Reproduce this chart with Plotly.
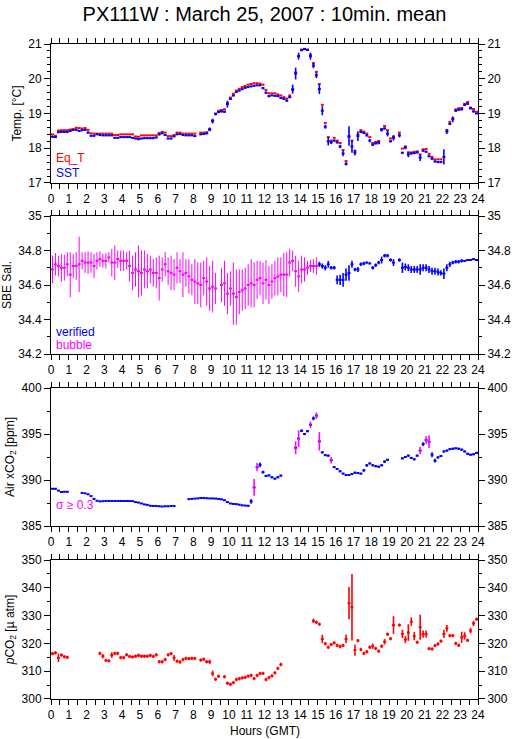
import plotly.graph_objects as go

# 10-minute bins, plotted at the centre of each bin
hours = [(i + 0.5) / 6 for i in range(144)]

eq_t = [18.40, 18.36, 18.51, 18.52, 18.52, 18.52, 18.54, 18.55, 18.59, 18.58, 18.57, 18.58,
        18.53, 18.43, 18.42, 18.42, 18.42, 18.42, 18.42, 18.42, 18.42, 18.38, 18.38, 18.40,
        18.40, 18.40, 18.40, 18.40, 18.34, 18.33, 18.37, 18.37, 18.37, 18.37, 18.37, 18.37,
        18.44, 18.47, 18.45, 18.35, 18.35, 18.38, 18.45, 18.45, 18.42, 18.42, 18.42, 18.42,
        18.42, None, 18.45, 18.45, 18.46, 18.52, 18.80, 19.00, 19.08, 19.10, 19.12, 19.30,
        19.46, 19.57, 19.66, 19.71, 19.76, 19.79, 19.83, 19.85, 19.87, 19.87, 19.86, 19.83,
        19.68, 19.58, 19.58, 19.58, 19.55, 19.52, 19.47, 19.43, 19.52, 19.68, 20.18, 20.65,
        20.84, 20.86, 20.84, 20.68, 20.45, 20.20, 19.85, 19.25, 18.73, 18.32, 18.22, 18.30,
        18.22, 18.15, 17.95, 17.63, 18.32, 18.22, 17.93, 18.40, 18.52, 18.48, 18.42, 18.32,
        18.15, 18.18, 18.21, 18.55, 18.64, 18.52, 18.28, 18.33, None, 18.45, 17.99, 18.05,
        17.88, 17.88, 17.90, 17.91, 17.82, 17.97, 17.98, 17.84, 17.75, 17.68, 17.68, 17.68,
        None, 18.52, 18.76, 18.86, 19.12, 19.15, 19.16, 19.28, 19.33, 19.17, 19.13, 19.05]

sst = [18.33, 18.32, 18.46, 18.47, 18.47, 18.47, 18.50, 18.53, 18.53, 18.50, 18.52, 18.53,
       18.45, 18.36, 18.36, 18.40, 18.38, 18.37, 18.37, 18.37, 18.37, 18.30, 18.30, 18.32,
       18.32, 18.32, 18.32, 18.30, 18.28, 18.26, 18.28, 18.29, 18.29, 18.29, 18.29, 18.31,
       18.40, 18.43, 18.38, 18.28, 18.28, 18.34, 18.40, 18.41, 18.38, 18.37, 18.37, 18.37,
       18.35, None, 18.40, 18.41, 18.43, 18.55, 18.78, 18.98, 19.04, 19.06, 19.05, 19.27,
       19.42, 19.52, 19.62, 19.66, 19.70, 19.74, 19.76, 19.78, 19.80, 19.81, 19.81, 19.73,
       19.60, 19.50, 19.52, 19.51, 19.50, 19.45, 19.42, 19.37, 19.47, 19.70, 20.15, 20.65,
       20.82, 20.85, 20.83, 20.65, 20.38, 20.10, 19.70, 19.08, 18.62, 18.20, 18.17, 18.22,
       18.17, 18.05, 17.85, 17.55, 18.35, 18.05, 17.87, 18.35, 18.47, 18.44, 18.37, 18.22,
       18.10, 18.14, 18.16, 18.53, 18.57, 18.42, 18.20, 18.30, None, 18.37, 17.87, 18.02,
       17.82, 17.85, 17.86, 17.88, 17.73, 17.93, 17.90, 17.77, 17.70, 17.62, 17.60, 17.60,
       17.75, 18.48, 18.70, 18.83, 19.08, 19.11, 19.12, 19.25, 19.28, 19.15, 19.06, 19.00]

sst_sd = [0.03, 0.02, 0.02, 0.02, 0.02, 0.02, 0.02, 0.02, 0.03, 0.02, 0.03, 0.02,
          0.03, 0.02, 0.02, 0.02, 0.02, 0.02, 0.02, 0.02, 0.02, 0.02, 0.02, 0.02,
          0.02, 0.02, 0.02, 0.02, 0.02, 0.02, 0.02, 0.02, 0.02, 0.02, 0.02, 0.02,
          0.03, 0.03, 0.02, 0.02, 0.02, 0.02, 0.02, 0.02, 0.02, 0.02, 0.02, 0.02,
          0.02, None, 0.02, 0.02, 0.03, 0.05, 0.07, 0.03, 0.03, 0.03, 0.03, 0.10,
          0.03, 0.03, 0.03, 0.02, 0.02, 0.02, 0.02, 0.02, 0.02, 0.02, 0.02, 0.03,
          0.03, 0.03, 0.02, 0.02, 0.02, 0.02, 0.03, 0.03, 0.03, 0.13, 0.17, 0.10,
          0.02, 0.02, 0.02, 0.10, 0.08, 0.08, 0.14, 0.13, 0.06, 0.12, 0.05, 0.03,
          0.03, 0.05, 0.08, 0.05, 0.28, 0.18, 0.08, 0.14, 0.03, 0.03, 0.03, 0.05,
          0.03, 0.03, 0.05, 0.05, 0.03, 0.08, 0.03, 0.08, None, 0.06, 0.03, 0.05,
          0.08, 0.03, 0.03, 0.03, 0.10, 0.03, 0.03, 0.03, 0.03, 0.02, 0.02, 0.02,
          0.22, 0.07, 0.03, 0.08, 0.03, 0.03, 0.03, 0.03, 0.03, 0.03, 0.03, 0.02]

# salinity flagged for bubbles, 00:00-15:00 (first 90 bins)
sal_bubble = [34.69, 34.72, 34.71, 34.70, 34.70, 34.72, 34.66, 34.71, 34.71, 34.72, 34.74, 34.73,
              34.73, 34.73, 34.71, 34.74, 34.75, 34.74, 34.74, 34.76, 34.73, 34.73, 34.75, 34.74,
              34.74, 34.74, 34.71, 34.67, 34.69, 34.68, 34.67, 34.69, 34.68, 34.69, 34.67, 34.67,
              34.64, 34.69, 34.72, 34.68, 34.67, 34.66, 34.70, 34.68, 34.66, 34.67, 34.65, 34.63,
              34.62, 34.61, 34.60, 34.64, 34.62, 34.58, 34.59, 34.58, None, 34.60, 34.61, 34.55,
              34.58, 34.55, 34.53, 34.56, 34.57, 34.58, 34.60, 34.61, 34.60, 34.63, 34.64, 34.61,
              34.63, 34.60, 34.62, 34.64, 34.65, 34.66, 34.66, 34.66, 34.73, 34.74, 34.68, 34.65,
              34.69, 34.69, 34.70, 34.71, 34.71, 34.71]
sal_bubble_sd = [0.08, 0.065, 0.06, 0.08, 0.075, 0.07, 0.13, 0.07, 0.08, 0.16, 0.05, 0.06,
                 0.065, 0.06, 0.07, 0.05, 0.045, 0.04, 0.045, 0.03, 0.08, 0.10, 0.05, 0.06,
                 0.06, 0.05, 0.09, 0.10, 0.10, 0.15, 0.13, 0.11, 0.10, 0.08, 0.08, 0.09,
                 0.13, 0.07, 0.07, 0.08, 0.10, 0.09, 0.09, 0.07, 0.13, 0.08, 0.10, 0.09,
                 0.13, 0.12, 0.13, 0.10, 0.14, 0.13, 0.15, 0.09, None, 0.10, 0.13, 0.12,
                 0.10, 0.18, 0.16, 0.13, 0.12, 0.12, 0.12, 0.14, 0.13, 0.11, 0.10, 0.12,
                 0.115, 0.11, 0.10, 0.10, 0.11, 0.10, 0.125, 0.13, 0.08, 0.06, 0.09, 0.09,
                 0.08, 0.07, 0.04, 0.035, 0.04, 0.05]

# verified salinity, 15:00-24:00 (last 54 bins)
sal_verified = [34.72, 34.71, 34.70, 34.72, 34.70, 34.70,
                34.63, 34.63, 34.63, 34.66, 34.67, 34.72, 34.69, 34.69, 34.72, 34.725, 34.73, 34.725,
                34.70, 34.715, 34.73, 34.745, 34.77, 34.77, 34.745, 34.73, None, 34.745, 34.70, 34.705,
                34.70, 34.69, 34.69, 34.69, 34.69, 34.70, 34.70, 34.69, 34.68, 34.68, 34.675, 34.67,
                34.665, 34.70, 34.72, 34.73, 34.735, 34.735, 34.74, 34.74, 34.745, 34.745, 34.75, 34.745]
sal_verified_sd = [0.015, 0.015, 0.015, 0.02, 0.01, 0.01,
                   0.025, 0.03, 0.04, 0.035, 0.045, 0.02, 0.01, 0.015, 0.01, 0.01, 0.005, 0.005,
                   0.01, 0.01, 0.01, 0.02, 0.01, 0.01, 0.01, 0.02, None, 0.01, 0.03, 0.02,
                   0.02, 0.02, 0.02, 0.02, 0.03, 0.02, 0.02, 0.02, 0.02, 0.02, 0.02, 0.015,
                   0.03, 0.02, 0.015, 0.01, 0.01, 0.01, 0.01, 0.005, 0.005, 0.005, 0.005, 0.005]

air_xco2 = [389.05, 389.05, 388.85, 388.70, 388.72, 388.72, None, None, None, None, 388.60, 388.55,
            388.45, 388.25, 387.95, 387.75, 387.68, 387.70, 387.72, 387.72, 387.72, 387.72, 387.72, 387.72,
            387.72, 387.72, 387.72, 387.70, 387.60, 387.55, 387.45, 387.35, 387.30, 387.20, 387.18, 387.18,
            387.15, 387.12, 387.15, 387.15, 387.18, 387.18, None, None, None, None, 387.92, 387.95,
            387.98, 388.00, 388.05, 388.05, 388.02, 388.00, 388.00, 387.98, 387.95, 387.90, 387.80, 387.60,
            387.45, 387.40, 387.38, 387.32, 387.25, 387.22, 387.20, 387.68, 389.20, 391.40, 391.65, 390.85,
            390.45, 390.50, 390.30, 390.15, 390.30, 390.48, None, None, None, None, 393.50, 394.50,
            395.35, 395.00, 395.30, 396.00, 396.70, 397.00, 394.20, 393.00, 392.70, 392.65, 392.15, 391.40,
            391.20, 390.95, 390.70, 390.55, 390.55, 390.65, 390.80, 390.75, 390.70, 391.05, 391.60, 391.80,
            391.60, 391.50, 391.45, 391.60, 392.00, 392.20, None, None, None, None, 392.35, 392.50,
            392.65, 392.40, 392.25, 392.65, 393.20, 393.90, 394.35, 394.15, 392.75, 392.10, 392.45, 392.60,
            393.10, 393.20, 393.35, 393.40, 393.45, 393.40, 393.30, 393.10, 392.85, 392.75, 392.80, 392.95]

air_xco2_sd = [0.03, 0.03, 0.03, 0.03, 0.03, 0.03, None, None, None, None, 0.03, 0.03,
               0.03, 0.05, 0.05, 0.03, 0.03, 0.03, 0.03, 0.03, 0.03, 0.03, 0.03, 0.03,
               0.03, 0.03, 0.03, 0.03, 0.03, 0.03, 0.03, 0.03, 0.03, 0.03, 0.03, 0.03,
               0.03, 0.03, 0.03, 0.03, 0.03, 0.03, None, None, None, None, 0.03, 0.03,
               0.03, 0.03, 0.03, 0.03, 0.03, 0.03, 0.03, 0.03, 0.03, 0.03, 0.03, 0.03,
               0.03, 0.03, 0.03, 0.03, 0.03, 0.03, 0.03, 0.25, 0.90, 0.45, 0.25, 0.15,
               0.10, 0.10, 0.10, 0.10, 0.10, 0.10, None, None, None, None, 0.70, 0.90,
               0.15, 0.12, 0.10, 0.35, 0.20, 0.35, 1.00, 0.10, 0.10, 0.10, 0.36, 0.10,
               0.10, 0.10, 0.10, 0.10, 0.10, 0.10, 0.10, 0.10, 0.10, 0.15, 0.15, 0.10,
               0.10, 0.10, 0.10, 0.10, 0.15, 0.10, None, None, None, None, 0.10, 0.10,
               0.10, 0.10, 0.10, 0.10, 0.40, 0.20, 0.40, 0.70, 0.28, 0.20, 0.12, 0.10,
               0.10, 0.10, 0.10, 0.10, 0.10, 0.10, 0.10, 0.10, 0.10, 0.10, 0.10, 0.10]

pco2 = [316.3, 316.6, 314.8, 315.8, 315.2, 315.0, None, None, None, None, None, None,
        None, None, None, None, 316.4, 315.4, 313.9, 313.7, 315.8, 316.4, 316.4, 314.9,
        314.9, 315.9, 315.3, 315.1, 315.4, 315.7, 315.4, 315.4, 315.4, 315.7, 315.3, 315.9,
        313.4, 313.4, 314.2, 315.9, 316.3, 314.8, 313.6, 313.3, 314.2, 314.6, 314.5, 314.6,
        314.6, None, 314.0, 314.3, 313.4, 313.4, 309.2, 307.1, 308.2, None, 308.0, 305.7,
        305.3, 305.9, 307.0, 307.3, 307.6, 307.8, 308.2, 308.5, 307.35, 308.5, 309.2, 309.2,
        307.0, 307.7, 308.3, 309.4, 311.0, 312.4, None, None, None, None, None, None,
        None, None, None, None, 328.1, 327.6, 326.9, 321.6, 319.9, 318.6, 319.6, 320.2,
        319.3, 318.9, 319.3, 321.6, 334.5, 333.0, 317.6, 321.0, 317.8, 316.4, 317.0, 318.6,
        319.0, 318.2, 317.2, 319.0, 320.6, 323.3, 321.7, 326.6, None, 326.6, 323.4, 321.4,
        323.9, 327.8, 322.6, 320.4, 325.8, 323.3, 323.3, 318.1, 318.0, 319.2, 319.8, 320.8,
        323.4, 325.4, 322.8, 322.8, 320.0, 319.3, 322.2, 322.7, 321.1, 324.6, 327.2, 328.7]

pco2_sd = [0.6, 0.6, 1.5, 0.6, 0.6, 0.6, None, None, None, None, None, None,
           None, None, None, None, 0.6, 0.8, 0.6, 0.6, 1.0, 0.6, 0.6, 0.6,
           0.6, 0.6, 0.6, 0.6, 0.6, 0.6, 0.6, 0.6, 0.6, 0.6, 0.6, 0.6,
           0.6, 0.6, 0.6, 0.6, 0.6, 1.0, 0.6, 0.6, 0.6, 0.6, 0.6, 0.6,
           0.6, None, 0.6, 0.6, 0.6, 0.8, 1.0, 0.6, 0.6, None, 0.6, 0.6,
           0.6, 0.6, 0.6, 0.6, 0.6, 0.6, 0.6, 0.6, 0.6, 0.6, 0.6, 0.6,
           0.6, 0.6, 0.6, 0.6, 0.6, 0.6, None, None, None, None, None, None,
           None, None, None, None, 0.8, 0.6, 0.6, 1.5, 0.6, 0.6, 0.6, 0.6,
           0.6, 0.6, 0.6, 1.5, 5.8, 12.0, 2.0, 0.6, 0.6, 0.6, 0.6, 0.6,
           1.0, 0.6, 0.6, 0.6, 1.0, 0.6, 0.6, 3.2, None, 0.6, 1.5, 1.3,
           3.0, 1.5, 1.5, 0.6, 4.5, 1.3, 1.3, 0.6, 0.6, 0.6, 0.6, 0.6,
           1.5, 1.2, 0.6, 0.6, 0.6, 0.6, 2.0, 1.3, 0.6, 1.0, 1.0, 0.6]

RED, BLUE, MAGENTA = 'rgb(255,0,0)', 'rgb(0,0,255)', 'rgb(255,0,255)'
HALF_BIN = 1 / 12
FONT = 'Liberation Sans, Arial, sans-serif'

fig = go.Figure()


def crosses(x, y, sd, color, n, show_x=True, vwidth=1.6):
    # horizontal bin bar on the left-hand y axis, vertical sd bar on the right-hand one
    xa = 'x' if n == 1 else f'x{n}'
    ya = 'y' if n == 1 else f'y{n}'
    if show_x:
        fig.add_trace(go.Scatter(
            x=x, y=y, mode='markers', marker=dict(size=1, color=color),
            error_x=dict(type='constant', value=HALF_BIN, width=0, thickness=2, color=color),
            xaxis=xa, yaxis=ya, showlegend=False, hoverinfo='skip'))
    if sd is not None:
        fig.add_trace(go.Scatter(
            x=x, y=y, mode='markers', marker=dict(size=1, color=color),
            error_y=dict(type='data', array=sd, width=0, thickness=vwidth, color=color),
            xaxis=xa, yaxis=f'y{n + 4}', showlegend=False))


# panel 1: temperature
crosses(hours, eq_t, None, RED, 1)
crosses(hours, sst, sst_sd, BLUE, 1)

# panel 2: salinity
crosses(hours[:90], sal_bubble, sal_bubble_sd, MAGENTA, 2, vwidth=1)
crosses(hours[90:], sal_verified, sal_verified_sd, BLUE, 2)

# panel 3: air xCO2, noisy bins (sigma >= 0.3) get a magenta vertical bar
sd_ok = [s if s is not None and s < 0.3 else None for s in air_xco2_sd]
sd_hi = [s if s is not None and s >= 0.3 else None for s in air_xco2_sd]
y_hi = [v if s is not None else None for v, s in zip(air_xco2, sd_hi)]
crosses(hours, air_xco2, sd_ok, BLUE, 3)
crosses(hours, y_hi, sd_hi, MAGENTA, 3, show_x=False)

# panel 4: pCO2
crosses(hours, pco2, pco2_sd, RED, 4)

panels = [
    (1, [0.7878, 1.0], [17, 21], 1, 0.2, 'Temp. [°C]'),
    (2, [0.5267, 0.7374], [34.2, 35], 0.2, 0.1, 'SBE Sal.'),
    (3, [0.2641, 0.4748], [385, 400], 5, 2.5, 'Air xCO<sub>2</sub> [ppm]'),
    (4, [0.0, 0.2122], [300, 350], 10, 5, '<i>p</i>CO<sub>2</sub> [µ atm]'),
]

tickfont = dict(family=FONT, size=12, color='black')
layout = {}
for n, dom, rng, dt, mdt, label in panels:
    sfx = '' if n == 1 else str(n)
    layout['xaxis' + sfx] = dict(
        domain=[0, 1], anchor='y' + sfx, range=[0, 24], dtick=1, tick0=0,
        ticks='outside', ticklen=5, tickwidth=1, tickcolor='black',
        minor=dict(dtick=0.5, ticklen=5, ticks='outside', tickcolor='black'),
        showline=True, linecolor='black', linewidth=1, mirror='ticks',
        showgrid=False, zeroline=False, tickfont=tickfont, fixedrange=True,
        automargin=False,
    )
    common = dict(
        domain=dom, range=rng, dtick=dt, tick0=rng[0],
        ticks='outside', ticklen=6, tickwidth=1, tickcolor='black',
        minor=dict(dtick=mdt, ticklen=3, ticks='outside', tickcolor='black'),
        showline=True, linecolor='black', linewidth=1,
        showgrid=False, zeroline=False, tickfont=tickfont, fixedrange=True,
        automargin=False,
    )
    layout['yaxis' + sfx] = dict(common, anchor='x' + sfx,
                                 title=dict(text=label, font=tickfont, standoff=4))
    layout[f'yaxis{n + 4}'] = dict(common, overlaying='y' + sfx, anchor='x' + sfx,
                                   side='right')

fig.update_layout(**layout)

notes = [
    ('Eq_T', RED, 'y', 0.18), ('SST', BLUE, 'y', 0.072),
    ('verified', BLUE, 'y2', 0.16), ('bubble', MAGENTA, 'y2', 0.065),
    ('σ ≥ 0.3', MAGENTA, 'y3', 0.152),
]
for text, color, yref, ypos in notes:
    fig.add_annotation(text=text, x=0.006, y=ypos, xref='x domain', yref=yref + ' domain',
                       xanchor='left', yanchor='middle', showarrow=False,
                       font=dict(family=FONT, size=12, color=color))

fig.add_annotation(text='Hours (GMT)', x=0.5, y=-0.049, xref='paper', yref='paper',
                   xanchor='center', yanchor='middle', showarrow=False,
                   font=dict(family=FONT, size=12, color='black'))

fig.update_layout(
    width=515, height=739,
    margin=dict(l=51, r=37, t=44, b=40, autoexpand=False),
    paper_bgcolor='white', plot_bgcolor='white',
    title=dict(text='PX111W : March 25, 2007 : 10min. mean', x=0.5, xref='paper',
               y=0.981, yref='container', yanchor='middle',
               font=dict(family=FONT, size=20, color='black')),
    showlegend=False,
)

fig.write_html('out.html', config={'displayModeBar': False},
               post_script="document.body.style.margin = '0';")
